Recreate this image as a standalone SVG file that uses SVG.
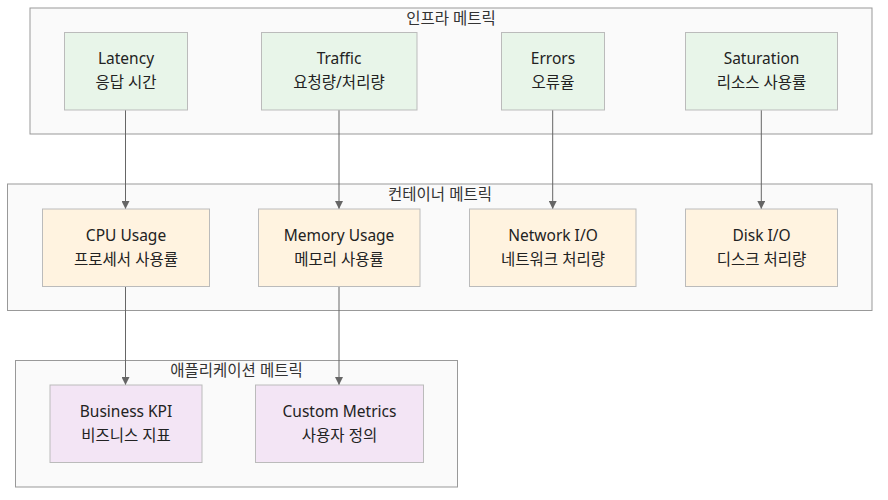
<svg xmlns="http://www.w3.org/2000/svg" width="888" height="500" viewBox="0 0 888 500">
<defs>
<style>
.cl{fill:#fafafa;stroke:#999;stroke-width:1}
.ct{font-family:"Noto Sans","Noto Sans CJK KR",sans-serif;font-size:15.5px;fill:#333;text-anchor:middle}
.g rect{fill:#e8f5e9;stroke:#bbb;stroke-width:1}
.o rect{fill:#fff3e0;stroke:#bbb;stroke-width:1}
.p rect{fill:#f3e5f5;stroke:#bbb;stroke-width:1}
.t{font-family:"Noto Sans","Noto Sans CJK KR",sans-serif;font-size:15.5px;fill:#222;text-anchor:middle}
.e{stroke:#666;stroke-width:1;fill:none;marker-end:url(#a)}
</style>
<marker id="a" viewBox="0 0 10 10" refX="10" refY="5" markerWidth="8" markerHeight="8" markerUnits="userSpaceOnUse" orient="auto">
<path d="M0,0L10,5L0,10z" fill="#666"/>
</marker>
</defs>
<rect width="888" height="500" fill="#fff"/>
<g id="cluster-infra"><rect class="cl" x="30" y="8" width="842" height="126"/><text class="ct" x="451" y="24">인프라 메트릭</text></g>
<g id="cluster-container"><rect class="cl" x="7.5" y="184" width="864.5" height="126.5"/><text class="ct" x="440" y="200">컨테이너 메트릭</text></g>
<g id="cluster-app"><rect class="cl" x="15.5" y="360.5" width="442" height="126.5"/><text class="ct" x="236.5" y="376">애플리케이션 메트릭</text></g>
<g id="connectors">
<path class="e" d="M125.5,110V209"/>
<path class="e" d="M339,110V209"/>
<path class="e" d="M552.7,110V209"/>
<path class="e" d="M761.3,110V209"/>
<path class="e" d="M125.5,286.5V385"/>
<path class="e" d="M339,286.5V385"/>
</g>
<g id="latency" class="g"><rect x="64.5" y="32.5" width="123" height="77.5"/><text class="t" x="126" y="64">Latency</text><text class="t" x="126" y="88">응답 시간</text></g>
<g id="traffic" class="g"><rect x="261.5" y="32.5" width="155.5" height="77.5"/><text class="t" x="339" y="64">Traffic</text><text class="t" x="339" y="88">요청량/처리량</text></g>
<g id="errors" class="g"><rect x="501.5" y="32.5" width="103" height="77.5"/><text class="t" x="553" y="64">Errors</text><text class="t" x="553" y="88">오류율</text></g>
<g id="saturation" class="g"><rect x="685.5" y="32.5" width="152" height="77.5"/><text class="t" x="761.5" y="64">Saturation</text><text class="t" x="761.5" y="88">리소스 사용률</text></g>
<g id="cpu" class="o"><rect x="42.5" y="209" width="167" height="77.5"/><text class="t" x="126" y="241">CPU Usage</text><text class="t" x="126" y="265">프로세서 사용률</text></g>
<g id="memory" class="o"><rect x="258.5" y="209" width="161.5" height="77.5"/><text class="t" x="339" y="241">Memory Usage</text><text class="t" x="339" y="265">메모리 사용률</text></g>
<g id="network" class="o"><rect x="469.5" y="209" width="166.5" height="77.5"/><text class="t" x="553" y="241">Network I/O</text><text class="t" x="553" y="265">네트워크 처리량</text></g>
<g id="disk" class="o"><rect x="685.5" y="209" width="152" height="77.5"/><text class="t" x="761.5" y="241">Disk I/O</text><text class="t" x="761.5" y="265">디스크 처리량</text></g>
<g id="business" class="p"><rect x="50" y="385" width="152" height="77.5"/><text class="t" x="126" y="417">Business KPI</text><text class="t" x="126" y="441">비즈니스 지표</text></g>
<g id="custom" class="p"><rect x="255.5" y="385" width="168" height="77.5"/><text class="t" x="339.5" y="417">Custom Metrics</text><text class="t" x="339.5" y="441">사용자 정의</text></g>
</svg>
